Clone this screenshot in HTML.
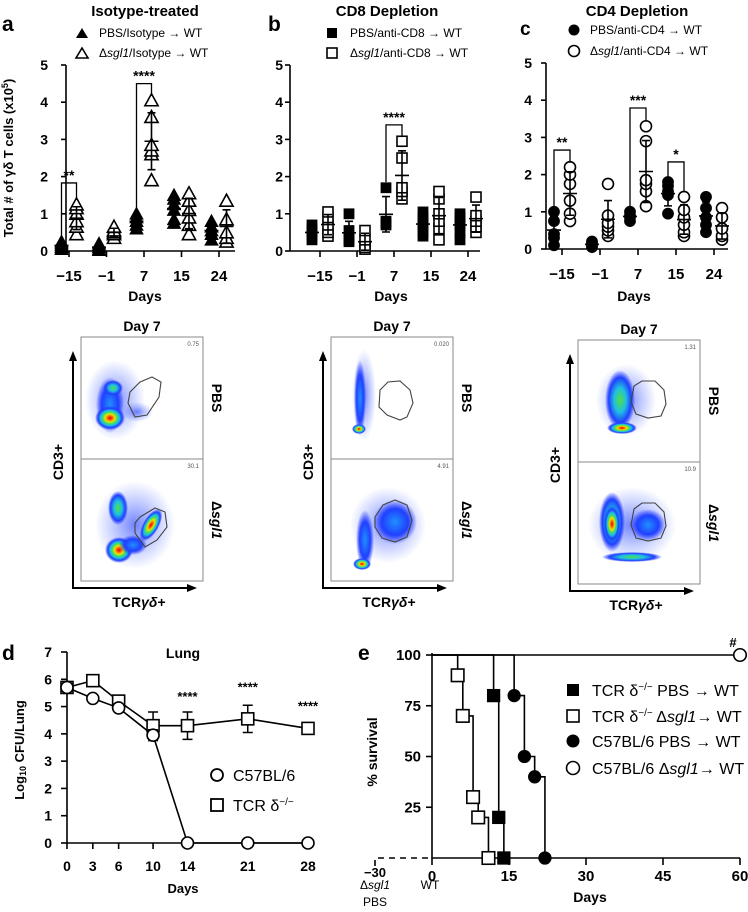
<!DOCTYPE html>
<html><head><meta charset="utf-8">
<style>
html,body{margin:0;padding:0;background:#fff;}
svg{display:block;font-family:"Liberation Sans",Arial,sans-serif;}
.b{font-weight:bold;}
</style></head>
<body>
<svg id="fig" width="748" height="912" viewBox="0 0 748 912" xmlns="http://www.w3.org/2000/svg">
<defs>
<radialGradient id="heat"><stop offset="0" stop-color="#e00000"/><stop offset="0.18" stop-color="#ff6a00"/><stop offset="0.32" stop-color="#f0e000"/><stop offset="0.48" stop-color="#40e060"/><stop offset="0.62" stop-color="#20c0e0"/><stop offset="0.8" stop-color="#2040ff"/><stop offset="1" stop-color="#2030ff" stop-opacity="0"/></radialGradient>
<radialGradient id="heatg"><stop offset="0" stop-color="#50e040"/><stop offset="0.4" stop-color="#20c0e0"/><stop offset="0.75" stop-color="#2040ff"/><stop offset="1" stop-color="#2030ff" stop-opacity="0"/></radialGradient>
<radialGradient id="heatb"><stop offset="0" stop-color="#2090ff"/><stop offset="0.6" stop-color="#2040ff"/><stop offset="1" stop-color="#2030ff" stop-opacity="0"/></radialGradient>
<radialGradient id="sc"><stop offset="0" stop-color="#1030ff" stop-opacity="0.6"/><stop offset="0.6" stop-color="#3050ff" stop-opacity="0.25"/><stop offset="1" stop-color="#3050ff" stop-opacity="0"/></radialGradient>
</defs>

<text x="2" y="31" font-size="21" class="b">a</text>
<text x="268" y="31" font-size="21" class="b">b</text>
<text x="520" y="35" font-size="19" class="b">c</text>
<text x="145" y="16" font-size="15" class="b" text-anchor="middle">Isotype-treated</text>
<text x="387" y="16" font-size="15" class="b" text-anchor="middle">CD8 Depletion</text>
<text x="637" y="16" font-size="15" class="b" text-anchor="middle">CD4 Depletion</text>
<text transform="translate(13,158) rotate(-90)" font-size="13" class="b" text-anchor="middle">Total # of γδ T cells (x10<tspan dy="-5" font-size="9">5</tspan><tspan dy="5">)</tspan></text>

<g font-size="12">
<path d="M82,28 L88,38 L76,38 Z" fill="#000"/>
<text x="99" y="37">PBS/Isotype → WT</text>
<path d="M82,48 L88,58 L76,58 Z" fill="#fff" stroke="#000" stroke-width="1.6"/>
<text x="99" y="57">Δ<tspan font-style="italic">sgl1</tspan>/Isotype → WT</text>
</g>
<g font-size="12">
<rect x="327" y="28" width="10" height="10" fill="#000"/>
<text x="350" y="37">PBS/anti-CD8 → WT</text>
<rect x="327" y="48" width="10" height="10" fill="#fff" stroke="#000" stroke-width="1.6"/>
<text x="350" y="57">Δ<tspan font-style="italic">sgl1</tspan>/anti-CD8 → WT</text>
</g>
<g font-size="12">
<circle cx="574" cy="30" r="5.5" fill="#000"/>
<text x="590" y="34">PBS/anti-CD4 → WT</text>
<circle cx="574" cy="51" r="5.5" fill="#fff" stroke="#000" stroke-width="1.6"/>
<text x="590" y="55">Δ<tspan font-style="italic">sgl1</tspan>/anti-CD4 → WT</text>
</g>

<g id="charts"></g>
<g id="flows"></g>

<text x="2" y="660" font-size="21" class="b">d</text>
<text x="183" y="658" font-size="14" class="b" text-anchor="middle">Lung</text>
<text transform="translate(24,750) rotate(-90)" font-size="13" class="b" text-anchor="middle">Log<tspan font-size="9" dy="2">10</tspan><tspan dy="-2"> CFU/Lung</tspan></text>
<text x="183" y="893" font-size="13" class="b" text-anchor="middle">Days</text>
<g font-size="16">
<circle cx="217" cy="775" r="6" fill="#fff" stroke="#000" stroke-width="1.8"/>
<text x="233" y="781">C57BL/6</text>
<rect x="211" y="799" width="12" height="12" fill="#fff" stroke="#000" stroke-width="1.8"/>
<text x="233" y="811">TCR δ<tspan dy="-6" font-size="10">−/−</tspan></text>
</g>

<text x="358" y="660" font-size="21" class="b">e</text>
<text transform="translate(377,752) rotate(-90)" font-size="14" class="b" text-anchor="middle">% survival</text>
<text x="590" y="902" font-size="14" class="b" text-anchor="middle">Days</text>
<text x="375" y="889" font-size="12" text-anchor="middle">Δ<tspan font-style="italic">sgl1</tspan></text>
<text x="375" y="906" font-size="12" text-anchor="middle">PBS</text>
<text x="430" y="889" font-size="12" text-anchor="middle">WT</text>
<text x="733" y="647" font-size="13" class="b" text-anchor="middle">#</text>
<g font-size="16">
<rect x="567" y="684" width="12" height="12" fill="#000"/>
<text x="592" y="696">TCR δ<tspan dy="-6" font-size="10">−/−</tspan><tspan dy="6"> PBS → WT</tspan></text>
<rect x="567" y="710" width="12" height="12" fill="#fff" stroke="#000" stroke-width="1.6"/>
<text x="592" y="722">TCR δ<tspan dy="-6" font-size="10">−/−</tspan><tspan dy="6"> Δ</tspan><tspan font-style="italic">sgl1</tspan>→ WT</text>
<circle cx="573" cy="741" r="6.5" fill="#000"/>
<text x="592" y="747">C57BL/6 PBS → WT</text>
<circle cx="573" cy="768" r="6.5" fill="#fff" stroke="#000" stroke-width="1.6"/>
<text x="592" y="774">C57BL/6 Δ<tspan font-style="italic">sgl1</tspan>→ WT</text>
</g>
</svg>

<script>
const catLabels = ['−15', '−1', '7', '15', '24'];
const yTicksABC = [0, 1, 2, 3, 4, 5];
const aPBS = [[0.05,0.1,0.15,0.2,0.25],[0.02,0.05,0.1,0.15,0.2],[0.6,0.7,0.8,0.9,1.0],[0.75,0.85,1.1,1.25,1.4,1.5],[0.3,0.45,0.55,0.65,0.8]];
const aSgl = [[0.45,0.65,0.8,1.0,1.15,1.25],[0.35,0.45,0.5,0.55,0.65],[1.9,2.6,2.7,2.85,3.6,4.05],[0.45,0.7,0.9,1.1,1.35,1.55],[0.25,0.35,0.5,0.85,1.35]];
const aSigCat = [0, 2];
const aSigLabel = ['**', '****'];
const aSigTop = [1.83, 4.5];
const bPBS = [[0.3,0.4,0.5,0.6,0.7],[0.25,0.3,0.35,0.55,1.0],[0.7,0.75,0.8,1.7],[0.4,0.5,0.7,0.8,0.9,1.05],[0.3,0.5,0.7,0.8,0.9,1.0]];
const bSgl = [[0.4,0.5,0.7,0.9,1.05],[0.05,0.1,0.3,0.55],[1.4,1.6,1.7,2.5,2.95],[0.3,0.6,0.8,1.0,1.4,1.6],[0.5,0.65,0.8,0.95,1.45]];
const bSigCat = [2];
const bSigLabel = ['****'];
const bSigTop = [3.39];
const cPBS = [[0.1,0.3,0.4,0.75,1.0],[0.05,0.1,0.15,0.2],[0.75,0.85,0.9,1.0],[0.95,1.45,1.55,1.7,1.8],[0.45,0.65,0.85,1.1,1.4]];
const cSgl = [[0.75,0.95,1.3,1.75,2.0,2.2],[0.35,0.5,0.6,0.7,0.9,1.75],[1.15,1.55,1.75,1.85,2.9,3.3],[0.35,0.45,0.65,0.85,1.05,1.4],[0.25,0.35,0.55,0.85,1.1]];
const cSigCat = [0, 2, 3];
const cSigLabel = ['**', '***', '*'];
const cSigTop = [2.66, 3.79, 2.34];

const dDays = [0, 3, 6, 10, 14, 21, 28];
const dYTicks = [0, 1, 2, 3, 4, 5, 6, 7];
const dC57 = [5.7, 5.3, 4.95, 3.95, 0, 0, 0];
const dC57Err = [0, 0, 0, 0.2, 0, 0, 0];
const dTCR = [5.7, 5.95, 5.2, 4.3, 4.3, 4.55, 4.2];
const dTCRErr = [0.2, 0, 0, 0.5, 0.5, 0.5, 0];
const dStarDays = [14, 21, 28];
const dStarY = [5.35, 5.7, 5.0];

const eXTicks = [0, 15, 30, 45, 60];
const eYTicks = [25, 50, 75, 100];
const eTcrPbsDays = [12, 13, 14];
const eTcrPbsSurv = [80, 20, 0];
const eTcrSglDays = [5, 6, 8, 9, 11];
const eTcrSglSurv = [90, 70, 30, 20, 0];
const eC57PbsDays = [16, 18, 20, 22];
const eC57PbsSurv = [80, 50, 40, 0];
const eC57SglDays = [60];
const eC57SglSurv = [100];

const NS = 'http://www.w3.org/2000/svg';
function add(parent, tag, attrs, text) {
  const el = document.createElementNS(NS, tag);
  for (const k in attrs) el.setAttribute(k, attrs[k]);
  if (text !== undefined) el.textContent = text;
  parent.appendChild(el);
  return el;
}
function shapeEl(g, shape, cx, cy, filled, s) {
  const fill = filled ? '#000' : '#fff';
  const st = {fill: fill, stroke: '#000', 'stroke-width': filled ? 0.8 : 1.6};
  let el;
  if (shape === 'tri') {
    st.d = `M${cx},${cy - s * 0.55} L${cx + s * 0.55},${cy + s * 0.45} L${cx - s * 0.55},${cy + s * 0.45} Z`;
    el = add(g, 'path', st);
  } else if (shape === 'sq') {
    st.x = cx - s / 2; st.y = cy - s / 2; st.width = s; st.height = s;
    el = add(g, 'rect', st);
  } else {
    st.cx = cx; st.cy = cy; st.r = s / 2;
    el = add(g, 'circle', st);
  }
  return el;
}
const charts = document.getElementById('charts');

function dotPanel(id, cfg, pbs, sgl, sigCat, sigLabel, sigTop) {
  const g = add(charts, 'g', {});
  
  
  const y = v => cfg.y0 - v * (cfg.y0 - cfg.yTop) / 5;
  const cx = i => cfg.c0 + i * cfg.step;
  const ya = add(g, 'line', {x1: cfg.ax, y1: cfg.yTop, x2: cfg.ax, y2: cfg.y0, stroke: '#000', 'stroke-width': 1.6});
  
  
  const xa = add(g, 'line', {x1: cfg.ax, y1: cfg.y0, x2: cfg.xEnd, y2: cfg.y0, stroke: '#000', 'stroke-width': 1.6});
  
  
  yTicksABC.forEach(t => {
    const tk = add(g, 'line', {x1: cfg.ax - 5, y1: y(t), x2: cfg.ax, y2: y(t), stroke: '#000', 'stroke-width': 1.6});
    
    
    const tl = add(g, 'text', {x: cfg.lblX, y: y(t) + 5, 'font-size': 14, 'font-weight': 'bold', 'text-anchor': 'end'}, String(t));
    
    
  });
  catLabels.forEach((c, i) => {
    const tk = add(g, 'line', {x1: cx(i), y1: cfg.y0, x2: cx(i), y2: cfg.y0 + 6, stroke: '#000', 'stroke-width': 1.6});
    
    
    const tl = add(g, 'text', {x: cx(i), y: cfg.y0 + 30, 'font-size': 15, 'font-weight': 'bold', 'text-anchor': 'middle'}, c);
    
    
  });
  const xt = add(g, 'text', {x: cfg.daysX, y: 301, 'font-size': 14, 'font-weight': 'bold', 'text-anchor': 'middle'}, 'Days');
  
  
  const groups = [[pbs, true, -cfg.off], [sgl, false, cfg.off]];
  groups.forEach(([arr, filled, off]) => {
    arr.forEach((vals, i) => {
      const x = cx(i) + off;
      vals.forEach(v => {
        const m = shapeEl(g, cfg.shape, x, y(v), filled, cfg.size);
        
        
      });
      const mean = vals.reduce((a, b) => a + b, 0) / vals.length;
      const sd = Math.sqrt(vals.reduce((a, b) => a + (b - mean) ** 2, 0) / (vals.length - 1));
      const eb = add(g, 'path', {d: `M${x},${y(mean - sd)} V${y(mean + sd)} M${x - 4},${y(mean + sd)} H${x + 4} M${x - 4},${y(mean - sd)} H${x + 4} M${x - 7},${y(mean)} H${x + 7}`, stroke: '#000', 'stroke-width': 1.6, fill: 'none'});
      
      
    });
  });
  sigCat.forEach((c, k) => {
    const xl = cx(c) - cfg.off, xr = cx(c) + cfg.off;
    const lo = Math.max(...pbs[c]) + 0.15, hi = Math.max(...sgl[c]) + 0.12;
    const br = add(g, 'path', {d: `M${xl},${y(lo)} V${y(sigTop[k])} H${xr} V${y(hi)}`, stroke: '#000', 'stroke-width': 1.3, fill: 'none'});
    
    
    const st = add(g, 'text', {x: (xl + xr) / 2, y: y(sigTop[k]) - 3, 'font-size': 14, 'font-weight': 'bold', 'text-anchor': 'middle'}, sigLabel[k]);
    
    
  });
}
dotPanel('a', {ax: 66, y0: 251, yTop: 65, xEnd: 235, c0: 69, step: 37.5, off: 7.5, shape: 'tri', size: 12, lblX: 48, daysX: 145}, aPBS, aSgl, aSigCat, aSigLabel, aSigTop);
dotPanel('b', {ax: 290, y0: 251, yTop: 65, xEnd: 480, c0: 320, step: 37, off: 8, shape: 'sq', size: 10, lblX: 283, daysX: 391}, bPBS, bSgl, bSigCat, bSigLabel, bSigTop);
dotPanel('c', {ax: 546, y0: 249, yTop: 63, xEnd: 728, c0: 562, step: 38, off: 8, shape: 'ci', size: 11, lblX: 532, daysX: 634}, cPBS, cSgl, cSigCat, cSigLabel, cSigTop);

const flows = document.getElementById('flows');
function flow(id, bx, by, pbsNum, sglNum, blobsP, blobsS, gateP, gateS) {
  const g = add(flows, 'g', {});
  
  
  const w = 122, h = 122;
  const t = add(g, 'text', {x: bx + w / 2, y: by - 6, 'font-size': 14, 'font-weight': 'bold', 'text-anchor': 'middle'}, 'Day 7');
  
  
  [[by, blobsP, gateP, pbsNum, 'PBS'], [by + h, blobsS, gateS, sglNum, 'sgl']].forEach(([yy, blobs, gate, num, lab]) => {
    const box = add(g, 'rect', {x: bx, y: yy, width: w, height: h, fill: '#fff', stroke: '#888', 'stroke-width': 1});
    
    
    blobs.forEach(b => {
      const e = add(g, 'ellipse', {cx: b[0], cy: b[1], rx: b[2], ry: b[3], fill: 'url(#' + b[4] + ')', transform: `rotate(${b[5] || 0} ${b[0]} ${b[1]})`});
      
      
    });
    const gp = add(g, 'polygon', {points: gate, fill: 'none', stroke: '#444', 'stroke-width': 1.1});
    
    
    const n = add(g, 'text', {x: bx + w - 4, y: yy + 9, 'font-size': 6, fill: '#555', 'text-anchor': 'end'}, num);
    
    
    const sl = add(g, 'text', {transform: `translate(${bx + w + 9},${yy + h / 2}) rotate(90)`, 'font-size': 14, 'font-weight': 'bold', 'text-anchor': 'middle'});
    
    
    if (lab === 'PBS') sl.textContent = 'PBS';
    else { sl.textContent = 'Δ'; add(sl, 'tspan', {'font-style': 'italic'}, 'sgl1'); }
  });
  const ax = add(g, 'path', {d: `M${bx + 108},${by + 2 * h + 7} H${bx - 8} V${by + 20}`, stroke: '#000', 'stroke-width': 2, fill: 'none'});
  
  
  const a1 = add(g, 'path', {d: `M${bx - 8},${by + 14} l-4,10 h8 z M${bx + 116},${by + 2 * h + 7} l-10,-4 v8 z`, fill: '#000'});
  
  
  const yl = add(g, 'text', {transform: `translate(${bx - 18},${by + h + 3}) rotate(-90)`, 'font-size': 14, 'font-weight': 'bold', 'text-anchor': 'middle'}, 'CD3+');
  
  
  const xt = add(g, 'text', {x: bx + 58, y: by + 2 * h + 26, 'font-size': 14, 'font-weight': 'bold', 'text-anchor': 'middle'});
  
  
  xt.textContent = 'TCR';
  add(xt, 'tspan', {'font-style': 'italic'}, 'γδ');
  add(xt, 'tspan', {}, '+');
}
flow('a', 81, 337, '0.75', '30.1',
  [[115, 400, 30, 40, 'sc'], [110, 405, 14, 28, 'heatb'], [113, 388, 10, 8, 'heatg'], [110, 418, 15, 12, 'heat'], [137, 412, 16, 10, 'sc']],
  [[135, 525, 40, 44, 'sc'], [118, 508, 10, 17, 'heatg'], [119, 550, 14, 13, 'heat'], [151, 525, 8, 18, 'heat', 30], [133, 545, 14, 10, 'heatb']],
  '140,382 152,377 161,382 159,397 147,415 135,417 128,403 130,392',
  '140,517 155,508 165,512 167,527 157,540 145,547 135,533 135,523');
flow('b', 331, 337, '0.020', '4.91',
  [[364, 395, 12, 46, 'sc'], [360, 398, 6, 38, 'heatb'], [359, 429, 7, 5, 'heat']],
  [[388, 525, 38, 38, 'sc'], [395, 522, 22, 22, 'heatb'], [365, 540, 9, 30, 'heatb'], [362, 564, 9, 6, 'heat']],
  '380,390 388,382 400,381 410,390 413,403 407,417 400,420 387,415 379,407',
  '375,517 383,505 395,500 407,505 412,520 407,537 395,542 382,538 375,527');
flow('c', 578, 340, '1.31', '10.9',
  [[626, 400, 30, 36, 'sc'], [620, 400, 15, 30, 'heatg'], [622, 428, 15, 6, 'heat']],
  [[632, 525, 44, 38, 'sc'], [612, 522, 13, 30, 'heatg'], [612, 524, 8, 18, 'heat'], [632, 557, 30, 5, 'heatg'], [648, 525, 18, 16, 'heatb']],
  '634,386 642,381 655,381 664,390 666,404 661,416 648,418 636,414 631,402',
  '634,509 642,503 655,503 664,512 666,526 661,538 648,541 636,538 631,525');

(function () {
  const g = add(charts, 'g', {});
  
  
  const xd = d => 67 + d * (241 / 28);
  const yd = v => 843 - v * (191 / 7);
  const ax = add(g, 'path', {d: `M67,${yd(7)} V${yd(0)} H${xd(28) + 2}`, stroke: '#000', 'stroke-width': 1.6, fill: 'none'});
  
  
  dYTicks.forEach(t => {
    const tk = add(g, 'line', {x1: 61, y1: yd(t), x2: 67, y2: yd(t), stroke: '#000', 'stroke-width': 1.6});
    
    
    const tl = add(g, 'text', {x: 52, y: yd(t) + 5, 'font-size': 14, 'font-weight': 'bold', 'text-anchor': 'end'}, String(t));
    
    
  });
  dDays.forEach(d => {
    const tk = add(g, 'line', {x1: xd(d), y1: 843, x2: xd(d), y2: 849, stroke: '#000', 'stroke-width': 1.6});
    
    
    const tl = add(g, 'text', {x: xd(d), y: 871, 'font-size': 14, 'font-weight': 'bold', 'text-anchor': 'middle'}, String(d));
    
    
  });
  [[dTCR, dTCRErr, 'sq', 'tcr'], [dC57, dC57Err, 'ci', 'c57']].forEach(([vals, err, sh, nm]) => {
    const ln = add(g, 'polyline', {points: dDays.map((d, i) => `${xd(d)},${yd(vals[i])}`).join(' '), fill: 'none', stroke: '#000', 'stroke-width': 1.6});
    
    
    dDays.forEach((d, i) => {
      if (err[i] > 0) {
        const eb = add(g, 'path', {d: `M${xd(d)},${yd(vals[i] - err[i])} V${yd(vals[i] + err[i])} M${xd(d) - 5},${yd(vals[i] + err[i])} h10 M${xd(d) - 5},${yd(vals[i] - err[i])} h10`, stroke: '#000', 'stroke-width': 1.5, fill: 'none'});
        
        
      }
    });
    dDays.forEach((d, i) => {
      const m = shapeEl(g, sh, xd(d), yd(vals[i]), false, 12);
      
      
    });
  });
  dStarDays.forEach((d, i) => {
    const s = add(g, 'text', {x: xd(d), y: yd(dStarY[i]) + 4, 'font-size': 13, 'font-weight': 'bold', 'text-anchor': 'middle'}, '****');
    
    
  });
})();

(function () {
  const g = add(charts, 'g', {});
  
  
  const xe = d => 432 + d * (308 / 60);
  const ye = p => 858 - p * (203 / 100);
  const ax = add(g, 'path', {d: `M${xe(0)},${ye(100) - 2} V${ye(0)} H${xe(60)}`, stroke: '#000', 'stroke-width': 1.6, fill: 'none'});
  
  
  const dash = add(g, 'path', {d: `M375,${ye(0) + 8} V${ye(0)} H${xe(0)}`, stroke: '#000', 'stroke-width': 1.6, fill: 'none', 'stroke-dasharray': '6,5'});
  
  
  const m30 = add(g, 'text', {x: 375, y: 877, 'font-size': 13, 'font-weight': 'bold', 'text-anchor': 'middle'}, '−30');
  
  
  eYTicks.forEach(t => {
    const tk = add(g, 'line', {x1: xe(0) - 6, y1: ye(t), x2: xe(0), y2: ye(t), stroke: '#000', 'stroke-width': 1.6});
    
    
    const tl = add(g, 'text', {x: 421, y: ye(t) + 5, 'font-size': 15, 'font-weight': 'bold', 'text-anchor': 'end'}, String(t));
    
    
  });
  eXTicks.forEach(d => {
    const tk = add(g, 'line', {x1: xe(d), y1: ye(0), x2: xe(d), y2: ye(0) + 7, stroke: '#000', 'stroke-width': 1.6});
    
    
    const tl = add(g, 'text', {x: xe(d), y: 881, 'font-size': 15, 'font-weight': 'bold', 'text-anchor': 'middle'}, String(d));
    
    
  });
  const series = [
    [eTcrSglDays, eTcrSglSurv, 'sq', false, 'tcr-sgl1'],
    [eTcrPbsDays, eTcrPbsSurv, 'sq', true, 'tcr-pbs'],
    [eC57PbsDays, eC57PbsSurv, 'ci', true, 'c57-pbs'],
    [eC57SglDays, eC57SglSurv, 'ci', false, 'c57-sgl1']
  ];
  series.forEach(([days, surv, sh, filled, nm]) => {
    let d = `M${xe(0)},${ye(100)}`;
    days.forEach((t, i) => { d += ` H${xe(t)} V${ye(surv[i])}`; });
    const p = add(g, 'path', {d: d, fill: 'none', stroke: '#000', 'stroke-width': 1.6});
    
    
  });
  series.forEach(([days, surv, sh, filled, nm]) => {
    days.forEach((t, i) => {
      const m = shapeEl(g, sh, xe(t), ye(surv[i]), filled, 12.5);
      
      
    });
  });
})();
</script>
</body></html>
